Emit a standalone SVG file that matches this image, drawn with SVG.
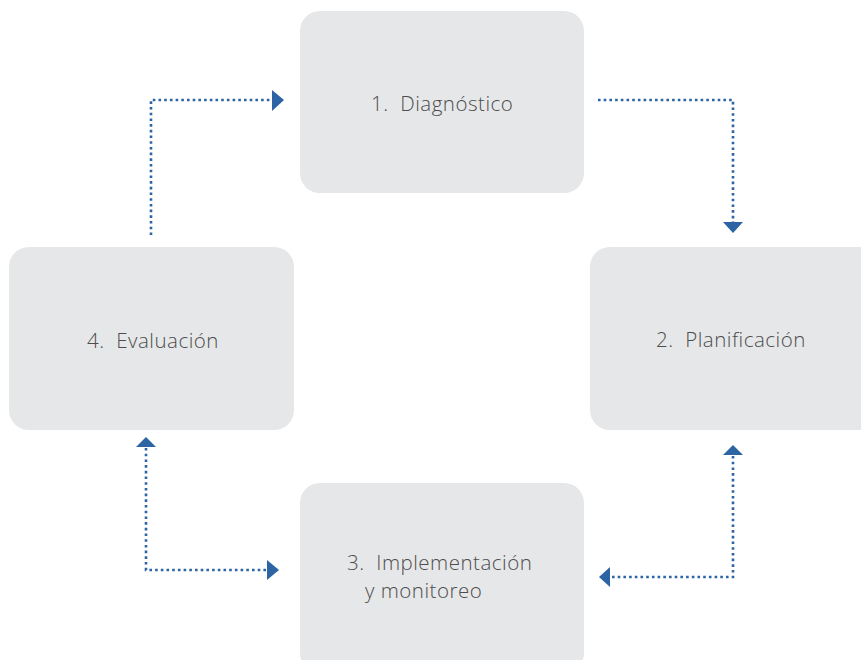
<svg xmlns="http://www.w3.org/2000/svg" width="861" height="660" viewBox="0 0 861 660">
<style>
.box{fill:#e6e7e8}
.lbl{font-family:"Open Sans",Lato,"Liberation Sans",sans-serif;font-weight:300;font-size:20.5px;letter-spacing:0.5px;fill:#4d4d4d;white-space:pre}
.con{fill:none;stroke:#2c64a4;stroke-width:2.6;stroke-dasharray:2.6 3.1}
.ah{fill:#2c64a4}
</style>
<rect width="861" height="660" fill="#fff"/>
<g id="n1"><rect class="box" x="300" y="11" width="284" height="182" rx="20"/><text class="lbl" x="371" y="111" xml:space="preserve">1.  Diagnóstico</text></g>
<g id="n2"><rect class="box" x="590" y="247" width="290" height="183" rx="20"/><text class="lbl" x="656" y="347" xml:space="preserve">2.  Planificación</text></g>
<g id="n3"><rect class="box" x="300" y="483" width="284" height="190" rx="20"/><text class="lbl" x="347" y="570" xml:space="preserve">3.  Implementación</text><text class="lbl" x="365" y="598">y monitoreo</text></g>
<g id="n4"><rect class="box" x="9" y="247" width="285" height="183" rx="20"/><text class="lbl" x="87" y="348" xml:space="preserve">4.  Evaluación</text></g>
<g id="connectors">
<path class="con" d="M151 235V100H272"/><polygon class="ah" points="272,90 284,100 272,111"/>
<path class="con" d="M598 100H733V222"/><polygon class="ah" points="723,222 743,222 733,233"/>
<path class="con" d="M146 448V570H267"/><polygon class="ah" points="136,447 156,447 146,437"/>
<path class="con" d="M733 456V577H610"/><polygon class="ah" points="723,455 743,455 733,445"/><polygon class="ah" points="610,567 610,587 599,577"/>
<polygon class="ah" points="267,560 267,580 279,570"/>
</g>
</svg>
